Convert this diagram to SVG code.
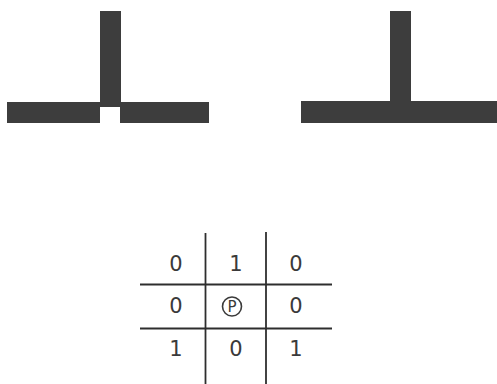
<svg xmlns="http://www.w3.org/2000/svg" width="497" height="384" viewBox="0 0 497 384">
<style>
.bar{fill:#3d3d3d}
.ln{stroke:#2e2e2e;stroke-width:1.8;fill:none}
.t{font-family:"DejaVu Sans","Liberation Sans",sans-serif;font-size:21px;fill:#3a3a3a;text-anchor:middle;dominant-baseline:central}
</style>
<rect width="497" height="384" fill="#fff"/>
<g id="t-left">
<rect class="bar" x="100" y="11" width="21" height="96"/>
<rect class="bar" x="7" y="102" width="93" height="21"/>
<rect class="bar" x="120" y="102" width="89" height="21"/>
</g>
<g id="t-right">
<rect class="bar" x="390" y="11" width="21" height="92"/>
<rect class="bar" x="301" y="101" width="196" height="22"/>
</g>
<g id="grid">
<line class="ln" x1="205.5" y1="233" x2="205.5" y2="384"/>
<line class="ln" x1="266" y1="232" x2="266" y2="384"/>
<line class="ln" x1="140" y1="284.5" x2="332" y2="284.5"/>
<line class="ln" x1="140" y1="328.5" x2="332" y2="328.5"/>
<text class="t" x="176" y="264">0</text>
<text class="t" x="236" y="264">1</text>
<text class="t" x="296" y="264">0</text>
<text class="t" x="176" y="306">0</text>
<circle cx="232" cy="306.5" r="9.5" fill="none" stroke="#3a3a3a" stroke-width="1.6"/>
<text class="t" x="232" y="307" style="font-size:15px">P</text>
<text class="t" x="296" y="306">0</text>
<text class="t" x="176" y="349">1</text>
<text class="t" x="236" y="349">0</text>
<text class="t" x="296" y="349">1</text>
</g>
</svg>
